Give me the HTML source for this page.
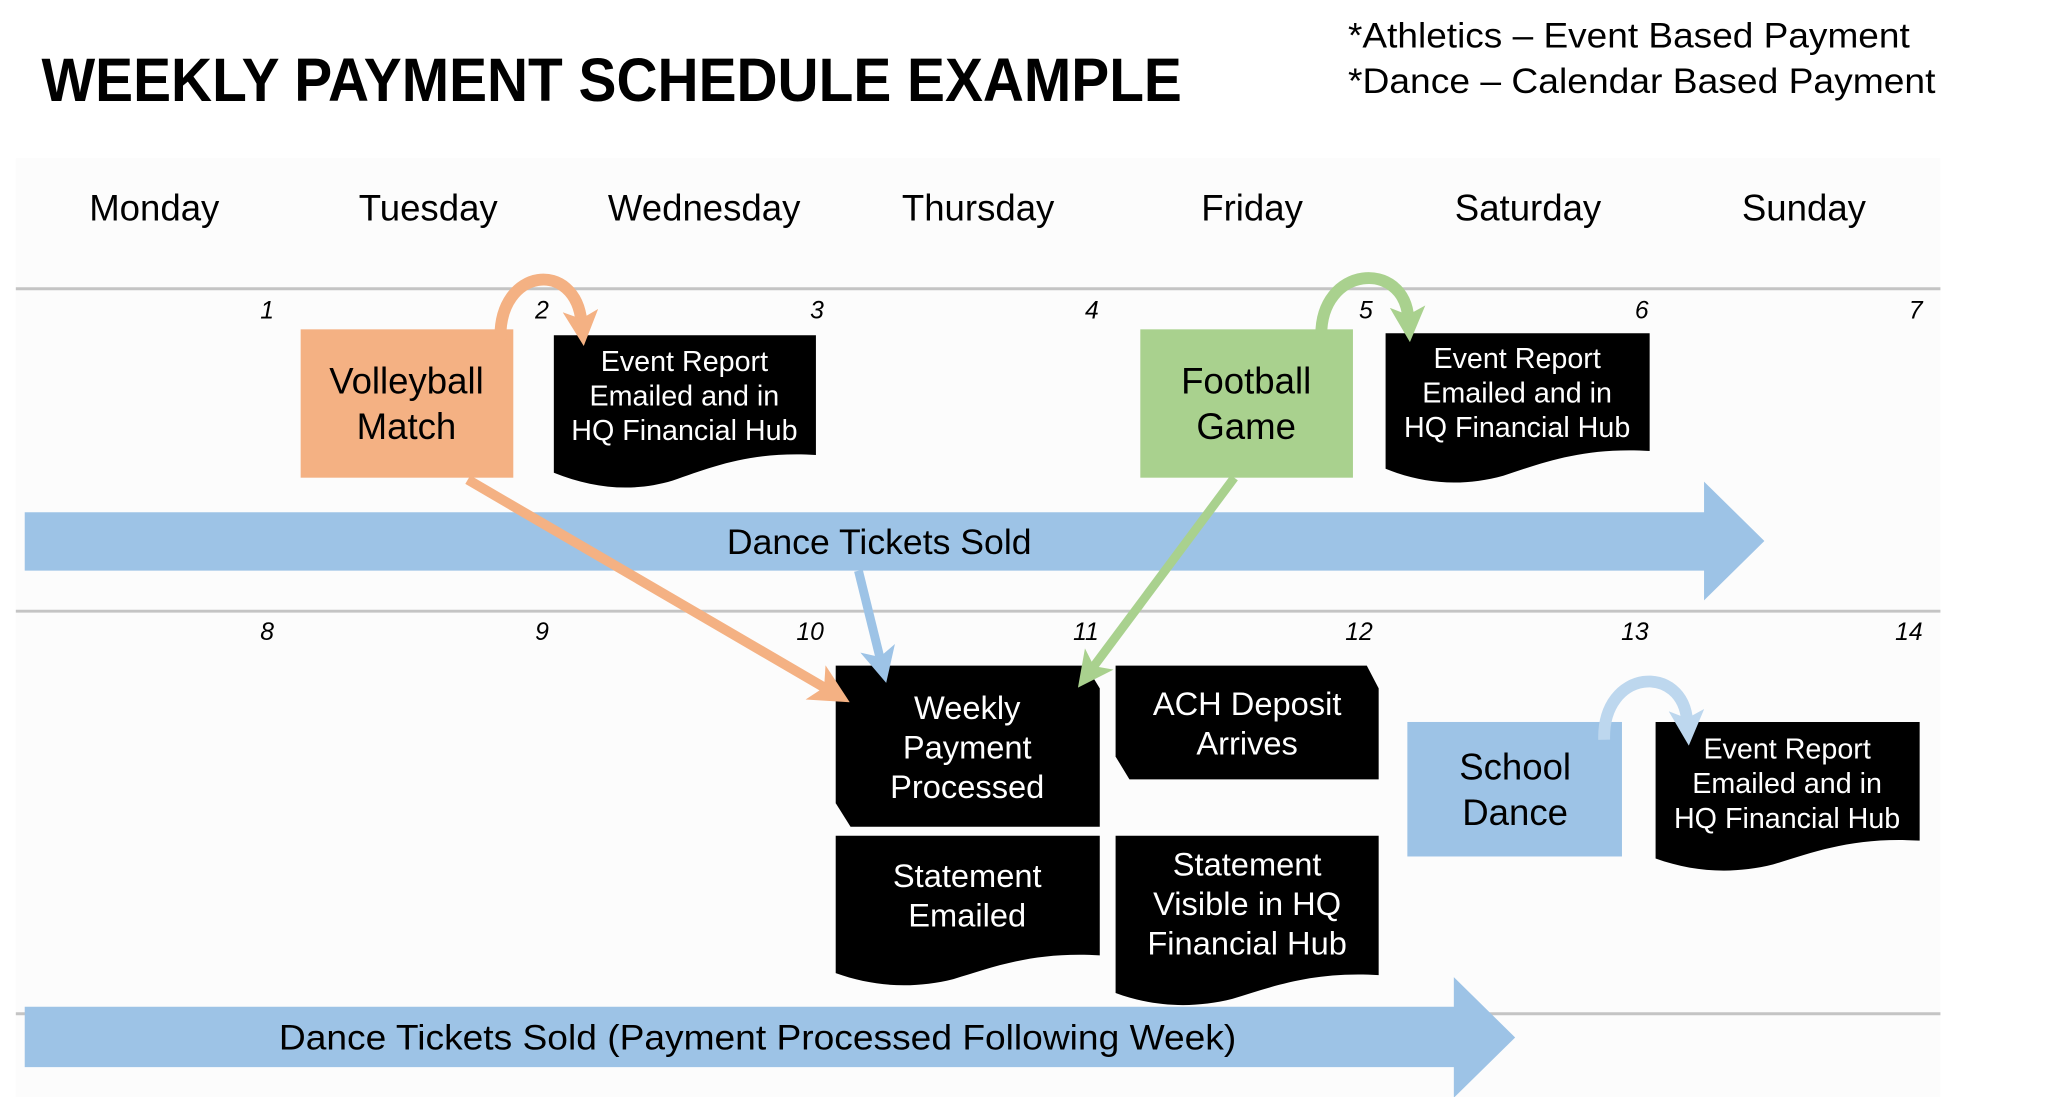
<!DOCTYPE html>
<html><head><meta charset="utf-8"><style>
html,body{margin:0;padding:0;background:#fff;}
svg{display:block;}
text{font-family:"Liberation Sans",sans-serif;}
</style></head><body>
<svg width="2048" height="1097" viewBox="0 0 2048 1097" xmlns="http://www.w3.org/2000/svg">
<defs>
<marker id="mo" markerWidth="4" markerHeight="4" refX="1.2" refY="2" orient="auto" markerUnits="strokeWidth"><path d="M0,0 L4,2 L0,4 L1,2 z" fill="#f4b183"/></marker>
<marker id="mb" markerWidth="4" markerHeight="4" refX="1.2" refY="2" orient="auto" markerUnits="strokeWidth"><path d="M0,0 L4,2 L0,4 L1,2 z" fill="#9dc3e6"/></marker>
<marker id="mg" markerWidth="4" markerHeight="4" refX="1.2" refY="2" orient="auto" markerUnits="strokeWidth"><path d="M0,0 L4,2 L0,4 L1,2 z" fill="#a9d18e"/></marker>
<marker id="co" markerWidth="3" markerHeight="3" refX="1" refY="1.5" orient="auto" markerUnits="strokeWidth"><path d="M0,0 L3,1.5 L0,3 L0.7,1.5 z" fill="#f4b183"/></marker>
<marker id="cg" markerWidth="3" markerHeight="3" refX="1" refY="1.5" orient="auto" markerUnits="strokeWidth"><path d="M0,0 L3,1.5 L0,3 L0.7,1.5 z" fill="#a9d18e"/></marker>
<marker id="cb" markerWidth="3" markerHeight="3" refX="1" refY="1.5" orient="auto" markerUnits="strokeWidth"><path d="M0,0 L3,1.5 L0,3 L0.7,1.5 z" fill="#bdd7ee"/></marker>
</defs>
<g transform="scale(0.989)">
<rect x="16" y="160" width="1946" height="950" fill="#fcfcfc"/>
<text x="42" y="102" font-size="62" font-weight="bold" textLength="1153" lengthAdjust="spacingAndGlyphs">WEEKLY PAYMENT SCHEDULE EXAMPLE</text>
<text x="1363" y="48" font-size="36" textLength="568" lengthAdjust="spacingAndGlyphs">*Athletics – Event Based Payment</text>
<text x="1363" y="94" font-size="36" textLength="594" lengthAdjust="spacingAndGlyphs">*Dance – Calendar Based Payment</text>
<g font-size="37" text-anchor="middle">
<text x="156" y="223">Monday</text><text x="433" y="223">Tuesday</text><text x="712" y="223">Wednesday</text><text x="989" y="223">Thursday</text><text x="1266" y="223">Friday</text><text x="1545" y="223">Saturday</text><text x="1824" y="223">Sunday</text>
</g>
<g stroke="#c4c4c4" stroke-width="3"><line x1="16" y1="292" x2="1962" y2="292"/><line x1="16" y1="618" x2="1962" y2="618"/><line x1="16" y1="1025" x2="1962" y2="1025"/></g>
<g font-size="25" font-style="italic" text-anchor="end">
<text x="277" y="322">1</text><text x="555" y="322">2</text><text x="833" y="322">3</text><text x="1111" y="322">4</text><text x="1388" y="322">5</text><text x="1667" y="322">6</text><text x="1944" y="322">7</text>
<text x="277" y="647">8</text><text x="555" y="647">9</text><text x="833" y="647">10</text><text x="1111" y="647">11</text><text x="1388" y="647">12</text><text x="1667" y="647">13</text><text x="1944" y="647">14</text>
</g>
<path d="M25,518 H1723 V487 L1784,547 L1723,607 V577 H25 z" fill="#9dc3e6"/>
<text x="889" y="560" font-size="36" text-anchor="middle">Dance Tickets Sold</text>
<path d="M25,1018 H1470 V988 L1532,1049 L1470,1110 V1079 H25 z" fill="#9dc3e6"/>
<text x="766" y="1061" font-size="36" text-anchor="middle" textLength="968" lengthAdjust="spacingAndGlyphs">Dance Tickets Sold (Payment Processed Following Week)</text>
<rect x="304" y="333" width="215" height="150" fill="#f4b183"/>
<text font-size="37" text-anchor="middle"><tspan x="411" y="398">Volleyball</tspan><tspan x="411" y="444">Match</tspan></text>
<rect x="1153" y="333" width="215" height="150" fill="#a9d18e"/>
<text font-size="37" text-anchor="middle"><tspan x="1260" y="398">Football</tspan><tspan x="1260" y="444">Game</tspan></text>
<rect x="1423" y="730" width="217" height="136" fill="#9dc3e6"/>
<text font-size="37" text-anchor="middle"><tspan x="1532" y="788">School</tspan><tspan x="1532" y="834">Dance</tspan></text>
<g fill="#000">
<path d="M560,339 H825 V460 C760,456 720,472 680,486 C640,498 600,494 560,478 z"/>
<path d="M1401,337 H1668 V456 C1600,452 1560,468 1520,481 C1480,492 1440,490 1401,474 z"/>
<path d="M1674,730 H1941 V850 C1873,846 1833,862 1793,874 C1753,884 1713,882 1674,868 z"/>
<path d="M845,845 H1112 V966 C1044,962 1004,978 964,990 C924,1000 884,998 845,984 z"/>
<path d="M1128,845 H1394 V986 C1326,982 1286,998 1246,1010 C1206,1020 1166,1018 1128,1004 z"/>
<path d="M845,673 H1098 L1112,696 V836 H860 L845,812 z"/>
<path d="M1128,673 H1382 L1394,696 V788 H1142 L1128,765 z"/>
</g>
<g fill="#fff" font-size="29" text-anchor="middle">
<text><tspan x="692" y="375">Event Report</tspan><tspan x="692" y="410">Emailed and in</tspan><tspan x="692" y="445">HQ Financial Hub</tspan></text>
<text><tspan x="1534" y="372">Event Report</tspan><tspan x="1534" y="407">Emailed and in</tspan><tspan x="1534" y="442">HQ Financial Hub</tspan></text>
<text><tspan x="1807" y="767">Event Report</tspan><tspan x="1807" y="802">Emailed and in</tspan><tspan x="1807" y="837">HQ Financial Hub</tspan></text>
</g>
<g fill="#fff" font-size="33" text-anchor="middle">
<text><tspan x="978" y="727">Weekly</tspan><tspan x="978" y="767">Payment</tspan><tspan x="978" y="807">Processed</tspan></text>
<text><tspan x="1261" y="723">ACH Deposit</tspan><tspan x="1261" y="763">Arrives</tspan></text>
<text><tspan x="978" y="897">Statement</tspan><tspan x="978" y="937">Emailed</tspan></text>
<text><tspan x="1261" y="885">Statement</tspan><tspan x="1261" y="925">Visible in HQ</tspan><tspan x="1261" y="965">Financial Hub</tspan></text>
</g>
<line x1="473" y1="485" x2="835" y2="696" stroke="#f4b183" stroke-width="10" marker-end="url(#mo)"/>
<line x1="868" y1="577" x2="890" y2="666" stroke="#9dc3e6" stroke-width="9" marker-end="url(#mb)"/>
<line x1="1248" y1="483" x2="1105" y2="675" stroke="#a9d18e" stroke-width="9" marker-end="url(#mg)"/>
<path d="M506,343 C504,270 582,262 588,326" fill="none" stroke="#f4b183" stroke-width="12" marker-end="url(#co)"/>
<path d="M1336,341 C1334,268 1420,262 1424,322" fill="none" stroke="#a9d18e" stroke-width="12" marker-end="url(#cg)"/>
<path d="M1622,748 C1620,676 1702,670 1706,730" fill="none" stroke="#bdd7ee" stroke-width="12" marker-end="url(#cb)"/>
</g>
</svg>
</body></html>
